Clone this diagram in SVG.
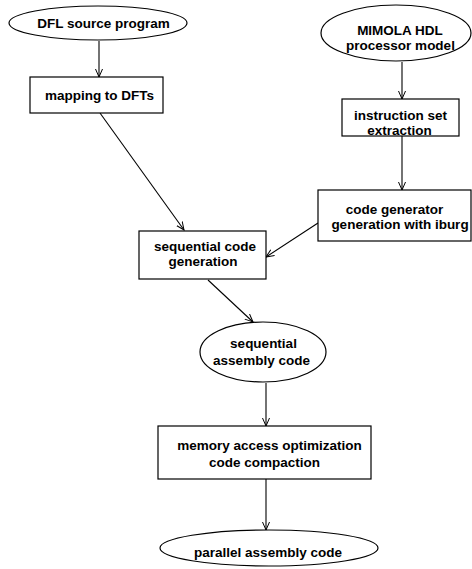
<svg xmlns="http://www.w3.org/2000/svg" width="472" height="569" viewBox="0 0 472 569">
<style>
.n{fill:#fff;stroke:#000;stroke-width:1.2}
.t{font-family:"Liberation Sans",Arial,sans-serif;font-weight:bold;font-size:13.5px;text-anchor:middle;fill:#000}
.c{fill:none;stroke:#000;stroke-width:1.1;marker-end:url(#a)}
</style>
<defs>
<marker id="a" markerWidth="10" markerHeight="10" refX="8" refY="4" orient="auto" markerUnits="userSpaceOnUse">
<polyline points="0,0.5 8,4 0,7.5" fill="none" stroke="#000" stroke-width="1"/>
</marker>
</defs>
<rect width="472" height="569" fill="#fff"/>
<g id="connectors">
<line class="c" x1="99" y1="41" x2="99" y2="77"/>
<line class="c" x1="100" y1="113" x2="184" y2="230"/>
<line class="c" x1="402" y1="62" x2="402" y2="99"/>
<line class="c" x1="402" y1="136" x2="402" y2="190"/>
<line class="c" x1="318" y1="223" x2="266" y2="257"/>
<line class="c" x1="208" y1="280" x2="253" y2="322"/>
<line class="c" x1="266" y1="383" x2="266" y2="426"/>
<line class="c" x1="266" y1="479" x2="266" y2="530"/>
</g>
<g id="dfl">
<ellipse class="n" cx="98" cy="23" rx="89" ry="17"/>
<text class="t" x="103.5" y="28">DFL source program</text>
</g>
<g id="mapping">
<rect class="n" x="30" y="77" width="133" height="36"/>
<text class="t" x="99.5" y="100">mapping to DFTs</text>
</g>
<g id="mimola">
<ellipse class="n" cx="396" cy="33" rx="75" ry="28"/>
<text class="t" x="400" y="35">MIMOLA HDL</text>
<text class="t" x="400.5" y="50">processor model</text>
</g>
<g id="iset">
<rect class="n" x="342" y="99" width="117" height="37"/>
<text class="t" x="400.5" y="120">instruction set</text>
<text class="t" x="399.5" y="135">extraction</text>
</g>
<g id="codegen">
<rect class="n" x="318" y="190" width="153" height="51"/>
<text class="t" x="394.5" y="214">code generator</text>
<text class="t" x="400" y="229">generation with iburg</text>
</g>
<g id="seqgen">
<rect class="n" x="139" y="231" width="127" height="48"/>
<text class="t" x="205" y="251">sequential code</text>
<text class="t" x="203" y="266">generation</text>
</g>
<g id="seqasm">
<ellipse class="n" cx="263" cy="352" rx="63" ry="30"/>
<text class="t" x="263.5" y="348">sequential</text>
<text class="t" x="261.5" y="365">assembly code</text>
</g>
<g id="memopt">
<rect class="n" x="158" y="426" width="213" height="53"/>
<text class="t" x="269.5" y="450">memory access optimization</text>
<text class="t" x="264.5" y="467">code compaction</text>
</g>
<g id="parasm">
<ellipse class="n" cx="269" cy="548" rx="109" ry="18"/>
<text class="t" x="268" y="557">parallel assembly code</text>
</g>
</svg>
